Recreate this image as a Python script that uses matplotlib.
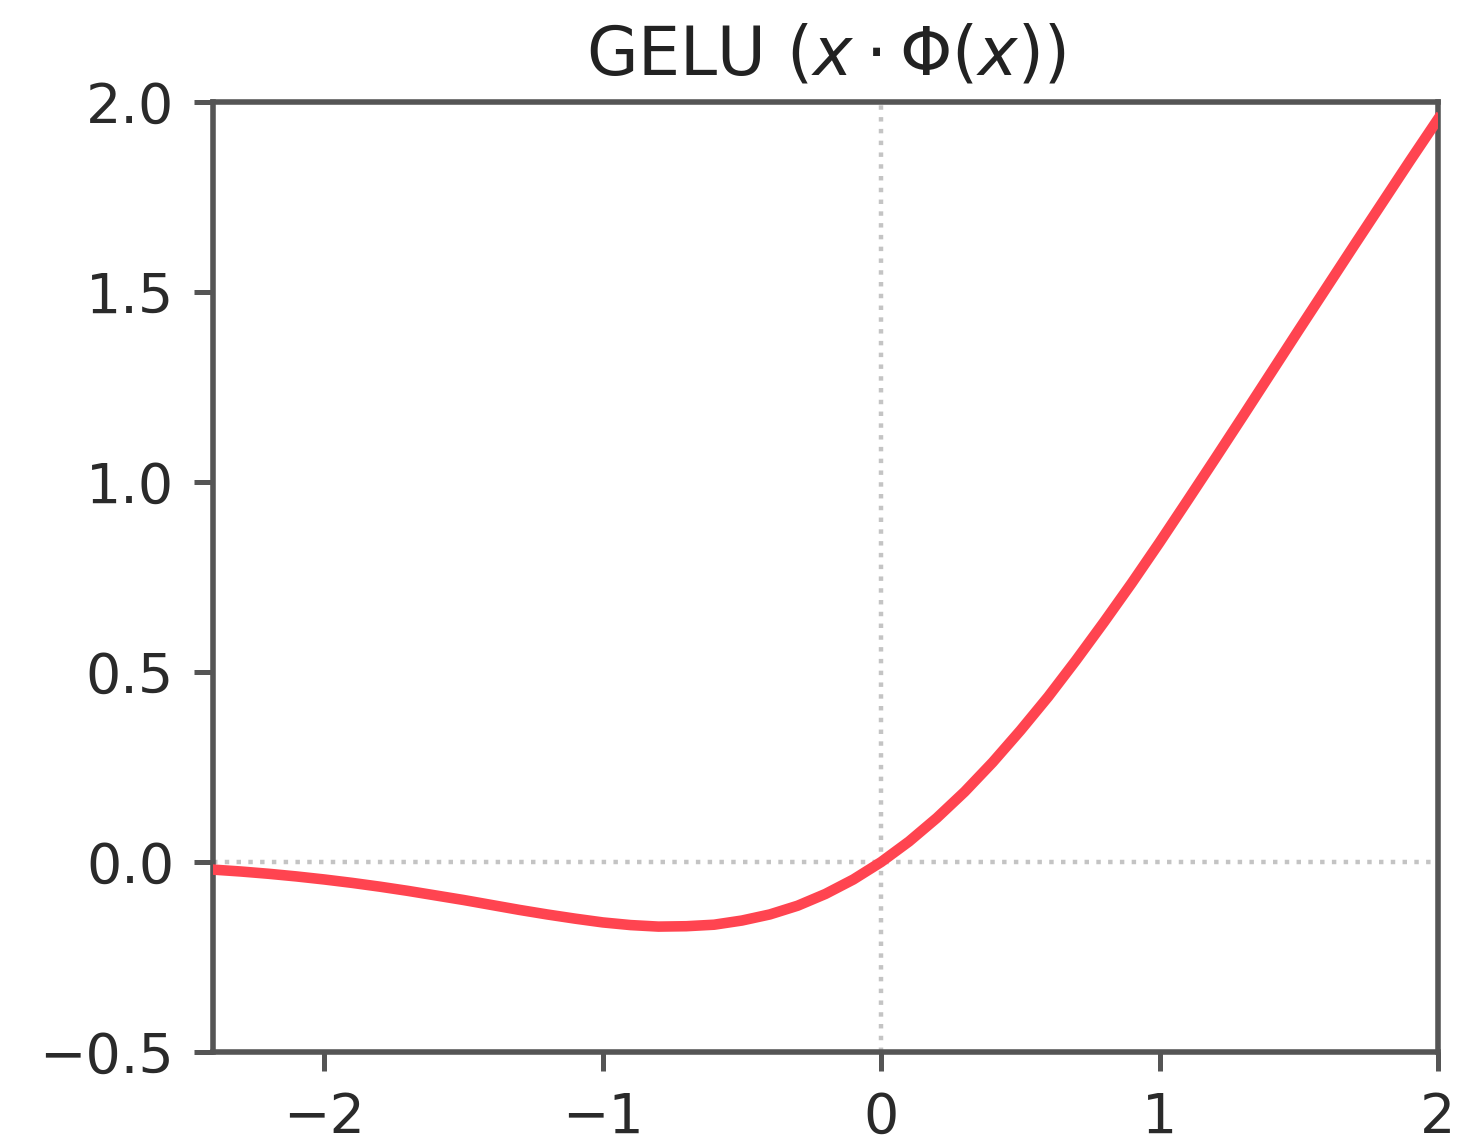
import numpy as np
import matplotlib
matplotlib.use('Agg')
import matplotlib.pyplot as plt

# --- values ---
X_VALS = [-2.4, -2.3, -2.2, -2.1, -2.0, -1.9, -1.8, -1.7, -1.6, -1.5,
          -1.4, -1.3, -1.2, -1.1, -1.0, -0.9, -0.8, -0.7, -0.6, -0.5,
          -0.4, -0.3, -0.2, -0.1, 0.0, 0.1, 0.2, 0.3, 0.4, 0.5,
          0.6, 0.7, 0.8, 0.9, 1.0, 1.1, 1.2, 1.3, 1.4, 1.5,
          1.6, 1.7, 1.8, 1.9, 2.0]
Y_VALS = [-0.020, -0.025, -0.031, -0.038, -0.046, -0.055, -0.065, -0.076, -0.088, -0.100,
          -0.113, -0.126, -0.138, -0.149, -0.159, -0.166, -0.170, -0.169, -0.165, -0.154,
          -0.138, -0.115, -0.084, -0.046, 0.000, 0.054, 0.116, 0.185, 0.262, 0.346,
          0.435, 0.531, 0.631, 0.734, 0.841, 0.951, 1.062, 1.174, 1.287, 1.400,
          1.512, 1.624, 1.735, 1.846, 1.955]
Y_TICKS = [-0.5, 0.0, 0.5, 1.0, 1.5, 2.0]
X_TICKS = [-2, -1, 0, 1, 2]
TITLE = r'GELU ($x \cdot \Phi(x)$)'

DPI = 400
fig = plt.figure(figsize=(1472 / DPI, 1136 / DPI), dpi=DPI)
ax = fig.add_axes([213 / 1472, 1 - 1052 / 1136, (1438 - 213) / 1472, (1052 - 102) / 1136])

ax.axhline(0, color='#c4c4c4', linestyle=':', linewidth=0.8, zorder=1)
ax.axvline(0, color='#c4c4c4', linestyle=':', linewidth=0.8, zorder=1)
ax.plot(X_VALS, Y_VALS, color='#ff4450', linewidth=1.9, zorder=3,
        solid_joinstyle='round')

ax.set_xlim(-2.4, 2.0)
ax.set_ylim(-0.5, 2.0)
ax.set_xticks(X_TICKS)
ax.set_yticks(Y_TICKS)
ax.tick_params(labelsize=10.0, colors='#555555', labelcolor='#2a2a2a', width=0.9, length=3.5)
for spine in ax.spines.values():
    spine.set_color('#555555')
    spine.set_linewidth(1.0)

ax.set_title(TITLE, fontsize=12.0, color='#222222', pad=5)

fig.savefig('out.png', dpi=DPI)
